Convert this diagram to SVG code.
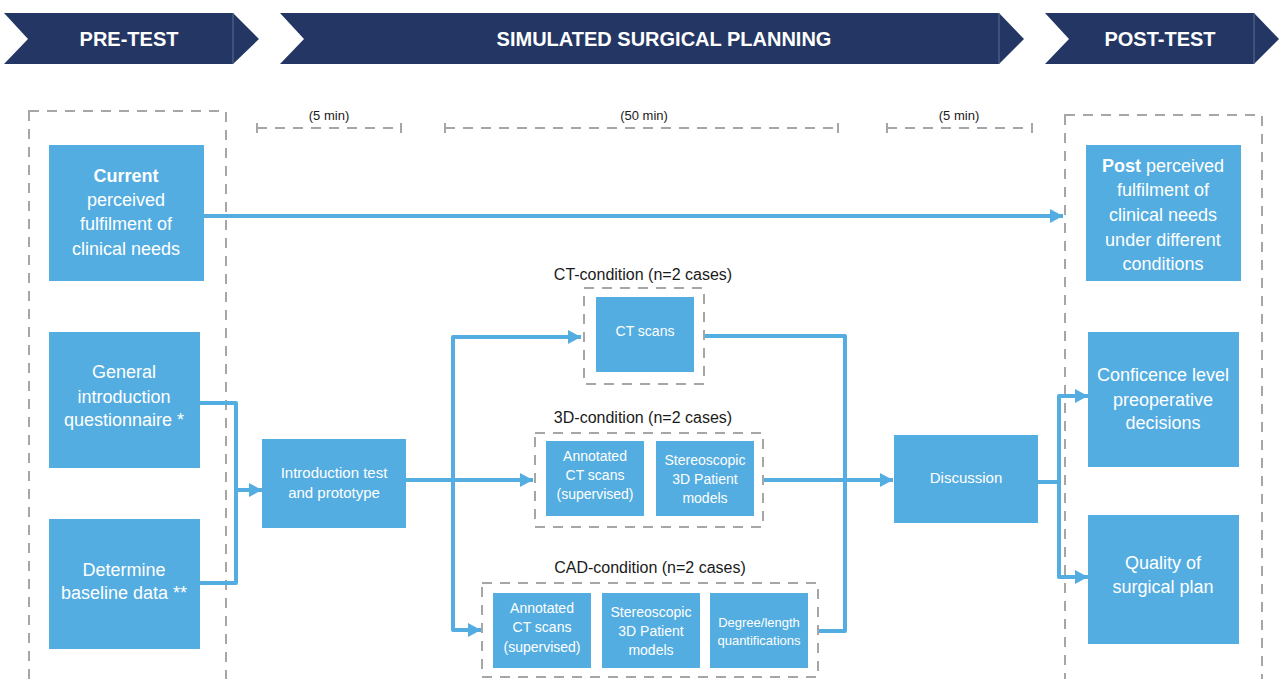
<svg xmlns="http://www.w3.org/2000/svg" width="1279" height="679" viewBox="0 0 1279 679">
<defs>
<marker id="ah" markerUnits="userSpaceOnUse" markerWidth="13" markerHeight="14" refX="13" refY="7" orient="auto">
<path d="M0,0 L13,7 L0,14 z" fill="#53ADE1"/>
</marker>
<style>
.banner{fill:#243764}
.bsep{stroke:#5d6d94;stroke-width:1}
.btxt{font-family:"Liberation Sans",Arial,sans-serif;font-weight:bold;font-size:20px;fill:#ffffff;text-anchor:middle}
.dash{fill:none;stroke:#A6A6A6;stroke-width:2;stroke-dasharray:10 8}
.tick{fill:none;stroke:#A6A6A6;stroke-width:2}
.node{fill:#53ADE1}
.t18{font-family:"Liberation Sans",Arial,sans-serif;font-size:18px;fill:#ffffff;text-anchor:middle}
.t15{font-family:"Liberation Sans",Arial,sans-serif;font-size:15px;fill:#ffffff;text-anchor:middle}
.t14{font-family:"Liberation Sans",Arial,sans-serif;font-size:14px;fill:#ffffff;text-anchor:middle}
.t13{font-family:"Liberation Sans",Arial,sans-serif;font-size:13px;fill:#ffffff;text-anchor:middle}
.lbl{font-family:"Liberation Sans",Arial,sans-serif;font-size:16px;fill:#1a1a1a;text-anchor:middle}
.tl{font-family:"Liberation Sans",Arial,sans-serif;font-size:13px;fill:#1a1a1a;text-anchor:middle}
.con{fill:none;stroke:#53ADE1;stroke-width:4;stroke-linejoin:round}
</style>
</defs>
<rect width="1279" height="679" fill="#ffffff"/>

<g id="banner-pre">
<polygon class="banner" points="4,13 233,13 259,39 233,64 4,64 28,39"/>
<line class="bsep" x1="233" y1="13" x2="233" y2="64"/>
<text class="btxt" x="129" y="46">PRE-TEST</text>
</g>
<g id="banner-sim">
<polygon class="banner" points="280,13 999,13 1024,39 999,64 280,64 304,39"/>
<line class="bsep" x1="999" y1="13" x2="999" y2="64"/>
<text class="btxt" x="664" y="46">SIMULATED SURGICAL PLANNING</text>
</g>
<g id="banner-post">
<polygon class="banner" points="1045,13 1254,13 1279,39 1254,64 1045,64 1069,39"/>
<line class="bsep" x1="1254" y1="13" x2="1254" y2="64"/>
<text class="btxt" x="1160" y="46">POST-TEST</text>
</g>

<g id="phase-boxes">
<rect class="dash" x="29" y="111" width="197" height="600"/>
<rect class="dash" x="1065" y="115" width="197" height="600"/>
</g>

<g id="timeline">
<path class="dash" d="M257,128 H401"/>
<path class="tick" d="M257,123 V133 M401,123 V133"/>
<text class="tl" x="329" y="120">(5 min)</text>
<path class="dash" d="M445,128 H838"/>
<path class="tick" d="M445,123 V133 M838,123 V133"/>
<text class="tl" x="644" y="120">(50 min)</text>
<path class="dash" d="M887,128 H1032"/>
<path class="tick" d="M887,123 V133 M1032,123 V133"/>
<text class="tl" x="959" y="120">(5 min)</text>
</g>

<g id="connectors">
<path class="con" d="M204,216 H1063" marker-end="url(#ah)"/>
<path class="con" d="M200,403 H236 V583 H200"/>
<path class="con" d="M236,490 H262" marker-end="url(#ah)"/>
<path class="con" d="M406,480 H533" marker-end="url(#ah)"/>
<path class="con" d="M453,480 V337 H581" marker-end="url(#ah)"/>
<path class="con" d="M453,480 V630 H481" marker-end="url(#ah)"/>
<path class="con" d="M704,336 H845 V631 H818"/>
<path class="con" d="M763,480 H893" marker-end="url(#ah)"/>
<path class="con" d="M1038,482 H1059 V396 H1088" marker-end="url(#ah)"/>
<path class="con" d="M1059,482 V577 H1088" marker-end="url(#ah)"/>
</g>

<g id="node-current">
<rect class="node" x="49" y="145" width="155" height="136"/>
<text class="t18" x="126" y="182" font-weight="bold">Current</text>
<text class="t18" x="126" y="206">perceived</text>
<text class="t18" x="126" y="230">fulfilment of</text>
<text class="t18" x="126" y="255">clinical needs</text>
</g>

<g id="node-general">
<rect class="node" x="49" y="332" width="151" height="136"/>
<text class="t18" x="124" y="378">General</text>
<text class="t18" x="124" y="403">introduction</text>
<text class="t18" x="124" y="426">questionnaire *</text>
</g>

<g id="node-baseline">
<rect class="node" x="49" y="519" width="151" height="130"/>
<text class="t18" x="124" y="576">Determine</text>
<text class="t18" x="124" y="599">baseline data **</text>
</g>

<g id="node-intro">
<rect class="node" x="262" y="439" width="144" height="89"/>
<text class="t15" x="334" y="478">Introduction test</text>
<text class="t15" x="334" y="498">and prototype</text>
</g>

<g id="group-ct">
<text class="lbl" x="643" y="280">CT-condition (n=2 cases)</text>
<rect class="dash" x="584" y="288" width="120" height="96"/>
</g>
<g id="node-ct-scans">
<rect class="node" x="596" y="297" width="98" height="75"/>
<text class="t14" x="645" y="336">CT scans</text>
</g>

<g id="group-3d">
<text class="lbl" x="643" y="423">3D-condition (n=2 cases)</text>
<rect class="dash" x="535" y="433" width="228" height="94"/>
</g>
<g id="node-3d-annotated">
<rect class="node" x="546" y="441" width="98" height="75"/>
<text class="t14" x="595" y="461">Annotated</text>
<text class="t14" x="595" y="480">CT scans</text>
<text class="t14" x="595" y="499">(supervised)</text>
</g>
<g id="node-3d-stereo">
<rect class="node" x="656" y="441" width="98" height="75"/>
<text class="t14" x="705" y="465">Stereoscopic</text>
<text class="t14" x="705" y="484">3D Patient</text>
<text class="t14" x="705" y="503">models</text>
</g>

<g id="group-cad">
<text class="lbl" x="650" y="573">CAD-condition (n=2 cases)</text>
<rect class="dash" x="482" y="583" width="336" height="94"/>
</g>
<g id="node-cad-annotated">
<rect class="node" x="493" y="593" width="98" height="75"/>
<text class="t14" x="542" y="613">Annotated</text>
<text class="t14" x="542" y="632">CT scans</text>
<text class="t14" x="542" y="652">(supervised)</text>
</g>
<g id="node-cad-stereo">
<rect class="node" x="602" y="593" width="98" height="75"/>
<text class="t14" x="651" y="617">Stereoscopic</text>
<text class="t14" x="651" y="636">3D Patient</text>
<text class="t14" x="651" y="655">models</text>
</g>
<g id="node-cad-degree">
<rect class="node" x="710" y="593" width="98" height="75"/>
<text class="t13" x="759" y="627">Degree/length</text>
<text class="t13" x="759" y="645">quantifications</text>
</g>

<g id="node-discussion">
<rect class="node" x="894" y="435" width="144" height="88"/>
<text class="t15" x="966" y="483">Discussion</text>
</g>

<g id="node-post">
<rect class="node" x="1086" y="145" width="155" height="136"/>
<text class="t18" x="1163" y="172"><tspan font-weight="bold">Post</tspan> perceived</text>
<text class="t18" x="1163" y="196">fulfilment of</text>
<text class="t18" x="1163" y="221">clinical needs</text>
<text class="t18" x="1163" y="246">under different</text>
<text class="t18" x="1163" y="270">conditions</text>
</g>

<g id="node-confidence">
<rect class="node" x="1088" y="332" width="151" height="135"/>
<text class="t18" x="1163" y="381">Conficence level</text>
<text class="t18" x="1163" y="406">preoperative</text>
<text class="t18" x="1163" y="429">decisions</text>
</g>

<g id="node-quality">
<rect class="node" x="1088" y="515" width="151" height="129"/>
<text class="t18" x="1163" y="569">Quality of</text>
<text class="t18" x="1163" y="593">surgical plan</text>
</g>
</svg>
